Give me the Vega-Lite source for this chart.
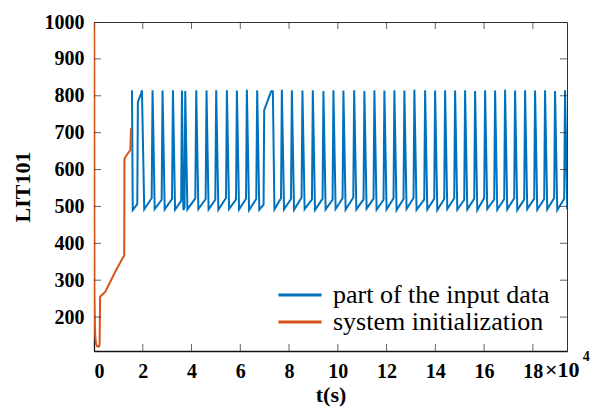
{
  "$schema": "https://vega.github.io/schema/vega-lite/v6.json",
  "autosize": {"type": "none"},
  "padding": {"left": 94, "top": 22, "right": 31, "bottom": 59},
  "width": 473,
  "height": 329,
  "background": "white",
  "config": {
    "view": {"stroke": "#333333", "strokeWidth": 1},
    "font": "Liberation Serif",
    "axis": {
      "labelFont": "Liberation Serif",
      "labelFontSize": 20,
      "labelFontWeight": "bold",
      "labelColor": "black",
      "titleFont": "Liberation Serif",
      "titleFontSize": 22,
      "titleFontWeight": "bold",
      "titleColor": "black",
      "domainColor": "#111111",
      "domainWidth": 1.3,
      "grid": false
    }
  },
  "datasets": {
    "blue": [
      {"t": 1.557, "v": 815}, {"t": 1.59, "v": 490}, {"t": 1.775, "v": 506}, {"t": 1.80, "v": 783}, {"t": 1.93, "v": 806}, {"t": 1.967, "v": 815},
      {"t": 2.06, "v": 492}, {"t": 2.365, "v": 522}, {"t": 2.402, "v": 815},
      {"t": 2.49, "v": 493}, {"t": 2.775, "v": 518}, {"t": 2.811, "v": 814},
      {"t": 2.90, "v": 492}, {"t": 3.20, "v": 520}, {"t": 3.238, "v": 815},
      {"t": 3.325, "v": 491}, {"t": 3.575, "v": 515}, {"t": 3.607, "v": 814},
      {"t": 3.665, "v": 490}, {"t": 3.715, "v": 498}, {"t": 3.742, "v": 813},
      {"t": 3.83, "v": 492}, {"t": 4.155, "v": 522}, {"t": 4.193, "v": 815},
      {"t": 4.28, "v": 493}, {"t": 4.58, "v": 520}, {"t": 4.615, "v": 814},
      {"t": 4.70, "v": 492}, {"t": 4.975, "v": 518}, {"t": 5.012, "v": 815},
      {"t": 5.10, "v": 491}, {"t": 5.415, "v": 523}, {"t": 5.451, "v": 815},
      {"t": 5.54, "v": 493}, {"t": 5.825, "v": 519}, {"t": 5.861, "v": 814},
      {"t": 5.95, "v": 492}, {"t": 6.235, "v": 521}, {"t": 6.270, "v": 816},
      {"t": 6.36, "v": 490}, {"t": 6.655, "v": 520}, {"t": 6.693, "v": 815},
      {"t": 6.78, "v": 491}, {"t": 6.955, "v": 505}, {"t": 6.98, "v": 761}, {"t": 7.266, "v": 812}, {"t": 7.336, "v": 812},
      {"t": 7.40, "v": 492}, {"t": 7.67, "v": 522}, {"t": 7.705, "v": 816},
      {"t": 7.795, "v": 492}, {"t": 8.08, "v": 520}, {"t": 8.115, "v": 815},
      {"t": 8.205, "v": 491}, {"t": 8.514, "v": 524}, {"t": 8.549, "v": 814},
      {"t": 8.639, "v": 493}, {"t": 8.94, "v": 519}, {"t": 8.975, "v": 815},
      {"t": 9.065, "v": 490}, {"t": 9.375, "v": 521}, {"t": 9.41, "v": 813},
      {"t": 9.50, "v": 492}, {"t": 9.785, "v": 518}, {"t": 9.82, "v": 815},
      {"t": 9.91, "v": 493}, {"t": 10.195, "v": 522}, {"t": 10.23, "v": 814},
      {"t": 10.32, "v": 491}, {"t": 10.635, "v": 524}, {"t": 10.67, "v": 815},
      {"t": 10.76, "v": 492}, {"t": 11.055, "v": 519}, {"t": 11.09, "v": 813},
      {"t": 11.18, "v": 494}, {"t": 11.465, "v": 521}, {"t": 11.50, "v": 815},
      {"t": 11.59, "v": 491}, {"t": 11.875, "v": 518}, {"t": 11.91, "v": 814},
      {"t": 12.00, "v": 492}, {"t": 12.285, "v": 522}, {"t": 12.32, "v": 815},
      {"t": 12.41, "v": 490}, {"t": 12.695, "v": 520}, {"t": 12.73, "v": 814},
      {"t": 12.82, "v": 493}, {"t": 13.105, "v": 523}, {"t": 13.14, "v": 816},
      {"t": 13.23, "v": 491}, {"t": 13.545, "v": 519}, {"t": 13.58, "v": 815},
      {"t": 13.67, "v": 492}, {"t": 13.955, "v": 521}, {"t": 13.99, "v": 814},
      {"t": 14.08, "v": 490}, {"t": 14.365, "v": 520}, {"t": 14.40, "v": 815},
      {"t": 14.49, "v": 493}, {"t": 14.775, "v": 522}, {"t": 14.81, "v": 814},
      {"t": 14.90, "v": 491}, {"t": 15.185, "v": 518}, {"t": 15.22, "v": 815},
      {"t": 15.31, "v": 492}, {"t": 15.595, "v": 521}, {"t": 15.63, "v": 813},
      {"t": 15.72, "v": 490}, {"t": 16.005, "v": 523}, {"t": 16.04, "v": 815},
      {"t": 16.13, "v": 493}, {"t": 16.415, "v": 519}, {"t": 16.45, "v": 814},
      {"t": 16.54, "v": 491}, {"t": 16.825, "v": 520}, {"t": 16.86, "v": 816},
      {"t": 16.95, "v": 492}, {"t": 17.235, "v": 522}, {"t": 17.27, "v": 814},
      {"t": 17.36, "v": 490}, {"t": 17.645, "v": 519}, {"t": 17.68, "v": 815},
      {"t": 17.77, "v": 493}, {"t": 18.055, "v": 521}, {"t": 18.09, "v": 814},
      {"t": 18.18, "v": 491}, {"t": 18.465, "v": 520}, {"t": 18.50, "v": 815},
      {"t": 18.59, "v": 492}, {"t": 18.875, "v": 523}, {"t": 18.91, "v": 813},
      {"t": 19.00, "v": 490}, {"t": 19.285, "v": 521}, {"t": 19.32, "v": 815},
      {"t": 19.41, "v": 492}
    ],
    "orange": [
      {"t": 0, "v": 1000}, {"t": 0.01, "v": 265}, {"t": 0.03, "v": 200}, {"t": 0.05, "v": 150},
      {"t": 0.08, "v": 128}, {"t": 0.12, "v": 121}, {"t": 0.2, "v": 120}, {"t": 0.23, "v": 125},
      {"t": 0.25, "v": 255}, {"t": 0.46, "v": 268}, {"t": 0.87, "v": 323}, {"t": 1.21, "v": 364},
      {"t": 1.24, "v": 366}, {"t": 1.25, "v": 630}, {"t": 1.35, "v": 640}, {"t": 1.49, "v": 653},
      {"t": 1.52, "v": 712}
    ],
    "xticks": [{"t": 0}, {"t": 2}, {"t": 4}, {"t": 6}, {"t": 8}, {"t": 10}, {"t": 12}, {"t": 14}, {"t": 16}, {"t": 18}],
    "yticks": [{"v": 200}, {"v": 300}, {"v": 400}, {"v": 500}, {"v": 600}, {"v": 700}, {"v": 800}, {"v": 900}, {"v": 1000}],
    "exp": [{"a": "×10", "b": "4"}]
  },
  "layer": [
    {
      "data": {"name": "blue"},
      "mark": {"type": "line", "strokeWidth": 2, "clip": true},
      "encoding": {
        "x": {"field": "t", "type": "quantitative",
          "scale": {"domain": [0, 19.4], "nice": false, "zero": false},
          "axis": {"values": [0, 2, 4, 6, 8, 10, 12, 14, 16, 18], "ticks": false, "tickSize": 0, "labelPadding": 10, "title": "t(s)", "titlePadding": 3}},
        "y": {"field": "v", "type": "quantitative",
          "scale": {"domain": [108, 1000], "nice": false, "zero": false},
          "axis": {"values": [200, 300, 400, 500, 600, 700, 800, 900, 1000], "format": "d", "ticks": false, "tickSize": 0, "labelPadding": 10, "title": "LIT101", "titlePadding": 10}},
        "color": {"datum": "part of the input data", "type": "nominal",
          "scale": {"domain": ["part of the input data", "system initialization"], "range": ["#0072BD", "#D95319"]},
          "legend": {"orient": "none", "legendX": 193, "legendY": 260, "title": null, "symbolType": "M-4,0H4", "symbolSize": 116, "symbolStrokeWidth": 3, "labelFont": "Liberation Serif", "labelFontSize": 26, "labelColor": "black", "labelOffset": 20, "labelLimit": 0, "rowPadding": 1, "padding": 0}}
      }
    },
    {
      "data": {"name": "orange"},
      "mark": {"type": "line", "strokeWidth": 2, "clip": true},
      "encoding": {
        "x": {"field": "t", "type": "quantitative"},
        "y": {"field": "v", "type": "quantitative"},
        "color": {"datum": "system initialization", "type": "nominal"}
      }
    },
    {
      "data": {"name": "xticks"},
      "mark": {"type": "tick", "orient": "vertical", "size": 14, "thickness": 1, "color": "#222222", "clip": true},
      "encoding": {
        "x": {"field": "t", "type": "quantitative"},
        "y": {"datum": 108, "type": "quantitative"}
      }
    },
    {
      "data": {"name": "xticks"},
      "mark": {"type": "tick", "orient": "vertical", "size": 14, "thickness": 1, "color": "#222222", "clip": true},
      "encoding": {
        "x": {"field": "t", "type": "quantitative"},
        "y": {"datum": 1000, "type": "quantitative"}
      }
    },
    {
      "data": {"name": "yticks"},
      "mark": {"type": "tick", "orient": "horizontal", "size": 14, "thickness": 1, "color": "#222222", "clip": true},
      "encoding": {
        "x": {"datum": 0, "type": "quantitative"},
        "y": {"field": "v", "type": "quantitative"}
      }
    },
    {
      "data": {"name": "yticks"},
      "mark": {"type": "tick", "orient": "horizontal", "size": 14, "thickness": 1, "color": "#222222", "clip": true},
      "encoding": {
        "x": {"datum": 19.4, "type": "quantitative"},
        "y": {"field": "v", "type": "quantitative"}
      }
    },
    {
      "data": {"name": "exp"},
      "mark": {"type": "text", "align": "left", "baseline": "alphabetic", "dy": 26, "font": "Liberation Serif", "fontSize": 22, "fontWeight": "bold", "color": "black", "clip": false},
      "encoding": {
        "x": {"datum": 18.5, "type": "quantitative"},
        "y": {"datum": 108, "type": "quantitative"},
        "text": {"field": "a"}
      }
    },
    {
      "data": {"name": "exp"},
      "mark": {"type": "text", "align": "left", "baseline": "alphabetic", "dy": 10, "font": "Liberation Serif", "fontSize": 14, "fontWeight": "bold", "color": "black", "clip": false},
      "encoding": {
        "x": {"datum": 20.05, "type": "quantitative"},
        "y": {"datum": 108, "type": "quantitative"},
        "text": {"field": "b"}
      }
    }
  ]
}
